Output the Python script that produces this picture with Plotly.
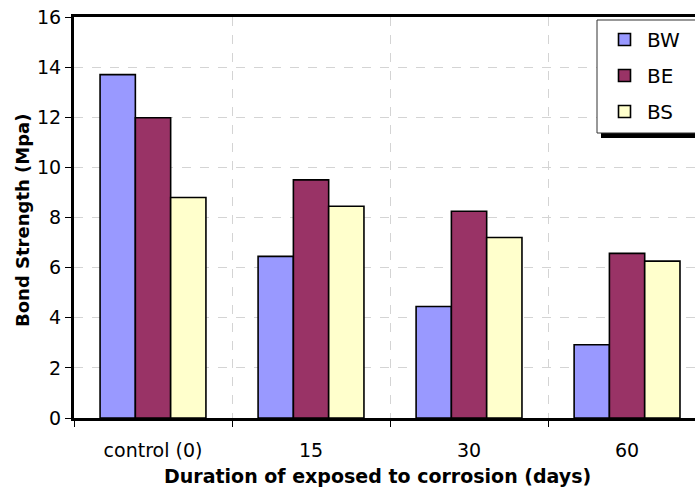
import plotly.graph_objects as go

categories = ["control (0)", "15", "30", "60"]
bw_values = [13.7, 6.45, 4.45, 2.92]
be_values = [11.98, 9.5, 8.25, 6.57]
bs_values = [8.8, 8.45, 7.2, 6.26]

series = [
    ("BW", bw_values, "#9999FF"),
    ("BE", be_values, "#993366"),
    ("BS", bs_values, "#FFFFCC"),
]

FONT = "DejaVu Sans, Arial, sans-serif"

PLOT_L, PLOT_T, PLOT_B = 74, 17, 418
PLOT_W, PLOT_H = 621, 401


def px_x(x):
    return (x - PLOT_L) / PLOT_W


def px_y(y):
    return (PLOT_B - y) / PLOT_H


fig = go.Figure()
for name, values, color in series:
    fig.add_trace(
        go.Bar(
            name=name,
            x=categories,
            y=values,
            legendgroup=name,
            marker=dict(color=color, line=dict(color="black", width=1.6)),
        )
    )

fig.update_layout(
    width=695,
    height=496,
    margin=dict(l=74, r=0, t=17, b=78, autoexpand=False),
    plot_bgcolor="white",
    paper_bgcolor="white",
    font=dict(family=FONT, size=19, color="black"),
    barmode="group",
    bargap=0.33,
    bargroupgap=0,
    showlegend=True,
    legend=dict(
        x=px_x(602),
        y=px_y(20),
        xanchor="left",
        yanchor="top",
        borderwidth=0,
        bgcolor="rgba(0,0,0,0)",
        font=dict(size=20),
        tracegroupgap=7,
        traceorder="grouped",
        itemwidth=35,
    ),
)

fig.update_xaxes(
    range=[-0.5, 3.43],
    tickson="boundaries",
    ticks="outside",
    ticklen=6,
    tickwidth=1,
    tickcolor="black",
    ticklabelstandoff=13,
    showline=True,
    linecolor="black",
    linewidth=3,
    mirror=True,
    showgrid=True,
    gridcolor="#D4D4D4",
    griddash="dash",
    gridwidth=1,
    automargin=False,
    ticklabeloverflow="allow",
)
fig.update_yaxes(
    range=[0, 16],
    dtick=2,
    ticks="outside",
    ticklen=6,
    tickwidth=1,
    tickcolor="black",
    showline=True,
    linecolor="black",
    linewidth=3,
    showgrid=True,
    gridcolor="#D4D4D4",
    griddash="dash",
    gridwidth=1,
    zeroline=False,
    automargin=False,
    ticklabeloverflow="allow",
)

fig.add_annotation(
    text="<b>Duration of exposed to corrosion (days)</b>",
    xref="paper",
    yref="paper",
    x=px_x(377),
    y=px_y(476),
    xanchor="center",
    yanchor="middle",
    showarrow=False,
    font=dict(size=19),
)
fig.add_annotation(
    text="<b>Bond Strength (Mpa)</b>",
    xref="paper",
    yref="paper",
    x=px_x(22),
    y=px_y(220),
    xanchor="center",
    yanchor="middle",
    textangle=-90,
    showarrow=False,
    font=dict(size=18),
)

# legend frame with its drop shadow, running off the right edge like the original
fig.add_shape(
    type="rect",
    xref="paper",
    yref="paper",
    x0=px_x(601),
    x1=1.05,
    y0=px_y(138),
    y1=px_y(24),
    fillcolor="black",
    line=dict(width=0),
    layer="above",
)
fig.add_shape(
    type="rect",
    xref="paper",
    yref="paper",
    x0=px_x(597),
    x1=1.05,
    y0=px_y(133),
    y1=px_y(20),
    fillcolor="white",
    line=dict(color="#333333", width=1),
    layer="above",
)

# drop the browser's default body margin so the figure sits at the page corner
fig.write_html(
    "out.html",
    config={"displayModeBar": False},
    post_script="document.body.style.margin='0';",
)
